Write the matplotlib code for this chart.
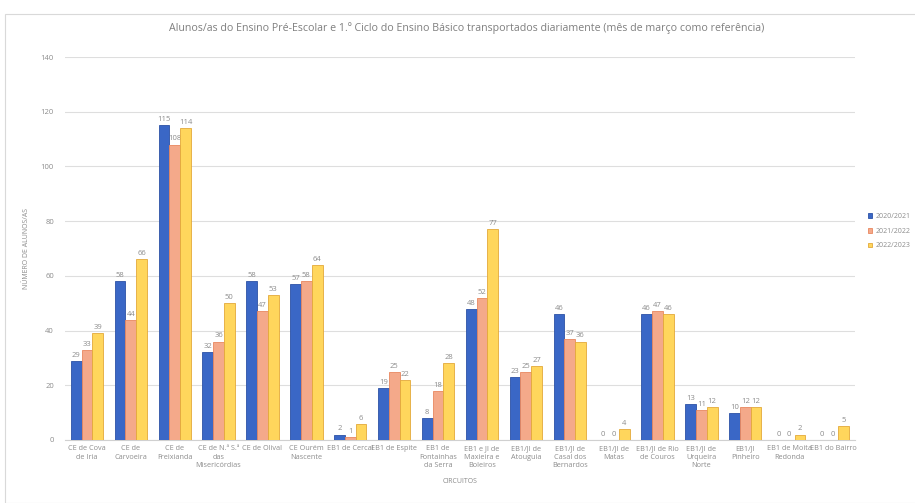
import numpy as np
import matplotlib
matplotlib.use('Agg')
from matplotlib import pyplot as plt
from matplotlib.patches import Rectangle

plt.rcParams['font.family'] = ['Open Sans', 'DejaVu Sans']

circuitos = ['CE de Cova\nde Iria', 'CE de\nCarvoeira', 'CE de\nFreixianda',
             'CE de N.ª S.ª\ndas\nMisericórdias', 'CE de Olival', 'CE Ourém\nNascente',
             'EB1 de Cercal', 'EB1 de Espite', 'EB1 de\nFontainhas\nda Serra',
             'EB1 e JI de\nMaxieira e\nBoleiros', 'EB1/JI de\nAtouguia',
             'EB1/JI de\nCasal dos\nBernardos', 'EB1/JI de\nMatas',
             'EB1/JI de Rio\nde Couros', 'EB1/JI de\nUrqueira\nNorte',
             'EB1/JI\nPinheiro', 'EB1 de Moita\nRedonda', 'EB1 do Bairro']
anos = ['2020/2021', '2021/2022', '2022/2023']
v2020 = [29, 58, 115, 32, 58, 57, 2, 19, 8, 48, 23, 46, 0, 46, 13, 10, 0, 0]
v2021 = [33, 44, 108, 36, 47, 58, 1, 25, 18, 52, 25, 37, 0, 47, 11, 12, 0, 0]
v2022 = [39, 66, 114, 50, 53, 64, 6, 22, 28, 77, 27, 36, 4, 46, 12, 12, 2, 5]

fills = ['#3a67c6', '#f4a98a', '#ffd65c']
edges = ['#2c52a6', '#e9875f', '#e3a93a']
txt = '#8c8c8c'

fig = plt.figure(figsize=(9.15, 5.03), dpi=100)
fig.patches.append(Rectangle((5/915, 0), 1, 1 - 14/503, transform=fig.transFigure,
                             fill=False, edgecolor='#d9d9d9', linewidth=0.8))
ax = fig.add_axes([65/915, 1 - 440/503, 790/915, 383/503])

x = np.arange(len(circuitos))
w = 0.245
for i, (vals, lab) in enumerate(zip([v2020, v2021, v2022], anos)):
    bars = ax.bar(x + (i - 1) * w, vals, w, color=fills[i], edgecolor=edges[i],
                  linewidth=0.6, label=lab, zorder=3)
    ax.bar_label(bars, padding=1.5, fontsize=5.5, color=txt)

ax.set_xlim(-0.5, len(circuitos) - 0.5)
ax.set_ylim(0, 140)
ax.set_yticks(range(0, 141, 20))
ax.grid(axis='y', color='#dedede', linewidth=0.8, zorder=0)
for s in ['top', 'right', 'left']:
    ax.spines[s].set_visible(False)
ax.spines['bottom'].set_color('#d0d0d0')
ax.tick_params(axis='both', length=0, labelsize=5.5, labelcolor=txt)
ax.tick_params(axis='y', pad=8)
ax.set_xticks(x)
ax.set_xticklabels(circuitos, fontsize=5.2, linespacing=1.35)
ax.set_xlabel('CIRCUITOS', fontsize=5, color=txt, labelpad=6)
ax.set_ylabel('NÚMERO DE ALUNOS/AS', fontsize=5, color=txt, labelpad=8)

fig.text(467/915, 1 - 28/503,
         'Alunos/as do Ensino Pré-Escolar e 1.º Ciclo do Ensino Básico transportados diariamente (mês de março como referência)',
         ha='center', va='center', fontsize=7.7, color='#7f7f7f')

ax.legend(loc='center left', bbox_to_anchor=(1.008, 0.545), frameon=False,
          fontsize=5, labelcolor=txt, handlelength=0.7, handleheight=0.7,
          handletextpad=0.4, labelspacing=1.1)

fig.savefig('out.png', dpi=100, facecolor='white')
